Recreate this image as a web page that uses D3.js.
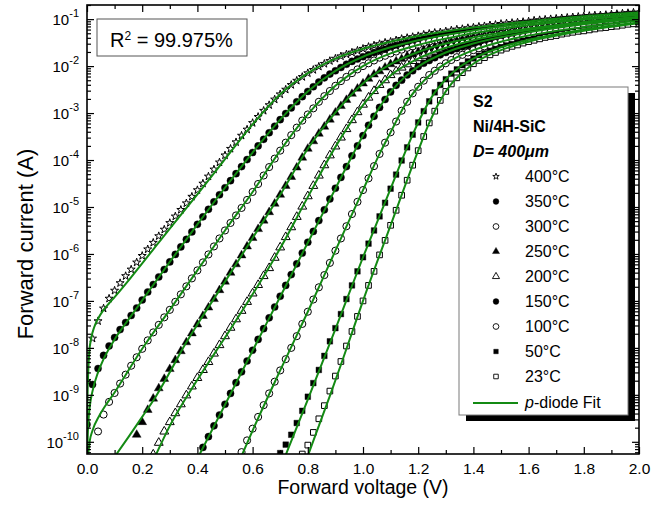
<!DOCTYPE html>
<html>
<head>
<meta charset="utf-8">
<script src="https://cdn.jsdelivr.net/npm/d3@7"></script>
<style>
  html, body { margin: 0; padding: 0; background: #fff; }
  svg { display: block; font-family: "Liberation Sans", Arial, sans-serif; }
</style>
</head>
<body>
<svg id="chart" width="668" height="518"></svg>
<script>
//=============== Data (current stored as log10 of A) ===============
// voltage sweep (V)
var voltage = [
  0.00,0.02,0.04,0.06,0.08,0.10,0.12,0.14,0.16,0.18,
  0.20,0.22,0.24,0.26,0.28,0.30,0.32,0.34,0.36,0.38,
  0.40,0.42,0.44,0.46,0.48,0.50,0.52,0.54,0.56,0.58,
  0.60,0.62,0.64,0.66,0.68,0.70,0.72,0.74,0.76,0.78,
  0.80,0.82,0.84,0.86,0.88,0.90,0.92,0.94,0.96,0.98,
  1.00,1.02,1.04,1.06,1.08,1.10,1.12,1.14,1.16,1.18,
  1.20,1.22,1.24,1.26,1.28,1.30,1.32,1.34,1.36,1.38,
  1.40,1.42,1.44,1.46,1.48,1.50,1.52,1.54,1.56,1.58,
  1.60,1.62,1.64,1.66,1.68,1.70,1.72,1.74,1.76,1.78,
  1.80,1.82,1.84,1.86,1.88,1.90,1.92,1.94,1.96,1.98,
  2.00];

var tempLabels = ["400°C", "350°C", "300°C", "250°C", "200°C", "150°C", "100°C", "50°C", "23°C"];
// first voltage of each measured series
var seriesStart = [0.00, 0.00, 0.04, 0.18, 0.24, 0.42, 0.56, 0.70, 0.78];

var cur400 = [
  -8.70,-7.80,-7.43,-7.16,-6.95,-6.78,-6.62,-6.47,-6.33,-6.18,
  -6.04,-5.90,-5.76,-5.62,-5.48,-5.34,-5.20,-5.06,-4.92,-4.78,
  -4.64,-4.50,-4.35,-4.20,-4.05,-3.90,-3.76,-3.62,-3.48,-3.35,
  -3.21,-3.08,-2.95,-2.83,-2.71,-2.60,-2.50,-2.40,-2.31,-2.23,
  -2.15,-2.08,-2.01,-1.95,-1.89,-1.84,-1.79,-1.75,-1.71,-1.67,
  -1.63,-1.59,-1.56,-1.53,-1.50,-1.48,-1.45,-1.42,-1.40,-1.38,
  -1.36,-1.33,-1.31,-1.29,-1.28,-1.26,-1.24,-1.22,-1.21,-1.19,
  -1.18,-1.16,-1.15,-1.13,-1.12,-1.10,-1.09,-1.08,-1.07,-1.06,
  -1.05,-1.03,-1.02,-1.01,-1.00,-0.99,-0.98,-0.97,-0.96,-0.95,
  -0.94,-0.93,-0.92,-0.92,-0.91,-0.90,-0.89,-0.88,-0.87,-0.86,
  -0.86];
var cur350 = [
  -9.63,-8.78,-8.44,-8.16,-7.96,-7.78,-7.61,-7.46,-7.31,-7.15,
  -6.98,-6.81,-6.65,-6.49,-6.33,-6.17,-6.01,-5.85,-5.69,-5.53,
  -5.37,-5.21,-5.05,-4.89,-4.74,-4.59,-4.44,-4.29,-4.14,-3.99,
  -3.84,-3.70,-3.56,-3.42,-3.28,-3.14,-3.01,-2.89,-2.76,-2.65,
  -2.54,-2.44,-2.34,-2.25,-2.17,-2.10,-2.03,-1.96,-1.90,-1.85,
  -1.80,-1.76,-1.71,-1.67,-1.64,-1.60,-1.57,-1.54,-1.51,-1.48,
  -1.45,-1.43,-1.40,-1.38,-1.36,-1.34,-1.31,-1.29,-1.28,-1.26,
  -1.24,-1.22,-1.21,-1.19,-1.18,-1.16,-1.15,-1.13,-1.12,-1.10,
  -1.09,-1.08,-1.07,-1.06,-1.05,-1.03,-1.02,-1.01,-1.00,-0.99,
  -0.98,-0.97,-0.96,-0.95,-0.94,-0.93,-0.92,-0.92,-0.91,-0.90,
  -0.89];
var cur300 = [
  -9.78,-9.42,-9.15,-8.96,-8.76,-8.57,-8.38,-8.20,
  -8.02,-7.84,-7.67,-7.51,-7.35,-7.19,-7.02,-6.86,-6.69,-6.52,
  -6.35,-6.18,-6.01,-5.84,-5.67,-5.50,-5.34,-5.18,-5.02,-4.85,
  -4.68,-4.51,-4.33,-4.15,-3.97,-3.80,-3.63,-3.47,-3.31,-3.16,
  -3.03,-2.90,-2.76,-2.64,-2.53,-2.42,-2.32,-2.23,-2.15,-2.07,
  -2.00,-1.94,-1.88,-1.82,-1.78,-1.73,-1.69,-1.65,-1.61,-1.58,
  -1.55,-1.51,-1.48,-1.46,-1.43,-1.41,-1.38,-1.36,-1.34,-1.32,
  -1.30,-1.28,-1.26,-1.24,-1.23,-1.21,-1.19,-1.18,-1.16,-1.15,
  -1.13,-1.12,-1.10,-1.09,-1.08,-1.07,-1.06,-1.05,-1.03,-1.02,
  -1.01,-1.00,-0.99,-0.98,-0.97,-0.96,-0.95,-0.94,-0.93,-0.92,
  -0.91];
var cur250 = [
  -9.85,
  -9.58,-9.32,-9.08,-8.86,-8.66,-8.45,-8.26,-8.07,-7.88,-7.69,
  -7.50,-7.32,-7.14,-6.96,-6.77,-6.59,-6.40,-6.22,-6.03,-5.84,
  -5.66,-5.47,-5.29,-5.11,-4.93,-4.74,-4.55,-4.36,-4.16,-3.95,
  -3.76,-3.60,-3.44,-3.29,-3.14,-2.99,-2.85,-2.72,-2.59,-2.48,
  -2.37,-2.27,-2.18,-2.11,-2.03,-1.96,-1.90,-1.85,-1.79,-1.75,
  -1.70,-1.66,-1.62,-1.59,-1.56,-1.52,-1.49,-1.47,-1.44,-1.41,
  -1.39,-1.37,-1.35,-1.32,-1.30,-1.28,-1.27,-1.25,-1.23,-1.21,
  -1.20,-1.18,-1.17,-1.15,-1.14,-1.12,-1.11,-1.10,-1.08,-1.07,
  -1.06,-1.05,-1.04,-1.02,-1.01,-1.00,-0.99,-0.98,-0.97,-0.96,
  -0.95];
var cur200 = [
  -10.27,-10.02,-9.78,-9.58,-9.39,-9.20,-9.01,-8.82,
  -8.64,-8.47,-8.30,-8.12,-7.94,-7.75,-7.57,-7.39,-7.21,-7.02,
  -6.84,-6.66,-6.47,-6.30,-6.08,-5.86,-5.64,-5.43,-5.21,-4.99,
  -4.77,-4.55,-4.33,-4.11,-3.90,-3.71,-3.52,-3.34,-3.15,-2.98,
  -2.82,-2.67,-2.53,-2.40,-2.30,-2.19,-2.11,-2.03,-1.96,-1.89,
  -1.83,-1.78,-1.73,-1.69,-1.65,-1.61,-1.57,-1.54,-1.51,-1.48,
  -1.45,-1.42,-1.40,-1.37,-1.35,-1.33,-1.31,-1.29,-1.27,-1.25,
  -1.23,-1.21,-1.20,-1.18,-1.17,-1.15,-1.14,-1.12,-1.11,-1.10,
  -1.08,-1.07,-1.06,-1.05,-1.04,-1.02,-1.01,-1.00,-0.99,-0.98,
  -0.97];
var cur150 = [
  -10.12,-9.89,-9.66,-9.43,-9.20,-8.97,-8.74,-8.51,-8.28,
  -8.05,-7.82,-7.59,-7.36,-7.13,-6.90,-6.67,-6.44,-6.21,-5.98,
  -5.75,-5.52,-5.29,-5.06,-4.83,-4.60,-4.37,-4.14,-3.91,-3.70,
  -3.48,-3.26,-3.07,-2.88,-2.71,-2.55,-2.41,-2.30,-2.19,-2.10,
  -2.01,-1.94,-1.88,-1.82,-1.76,-1.71,-1.67,-1.63,-1.59,-1.56,
  -1.52,-1.49,-1.46,-1.43,-1.41,-1.38,-1.36,-1.34,-1.32,-1.29,
  -1.28,-1.26,-1.24,-1.22,-1.20,-1.19,-1.17,-1.16,-1.14,-1.13,
  -1.11,-1.10,-1.09,-1.07,-1.06,-1.05,-1.04,-1.03,-1.01,-1.00,
  -0.99];
var cur100 = [
  -10.22,-9.97,
  -9.72,-9.47,-9.22,-8.97,-8.72,-8.48,-8.24,-8.00,-7.75,-7.49,
  -7.23,-6.97,-6.71,-6.45,-6.19,-5.93,-5.67,-5.41,-5.15,-4.89,
  -4.64,-4.39,-4.13,-3.87,-3.63,-3.41,-3.18,-2.95,-2.76,-2.58,
  -2.44,-2.31,-2.19,-2.10,-2.01,-1.94,-1.87,-1.81,-1.76,-1.71,
  -1.66,-1.62,-1.58,-1.55,-1.51,-1.48,-1.45,-1.43,-1.40,-1.38,
  -1.35,-1.33,-1.31,-1.29,-1.27,-1.25,-1.23,-1.21,-1.20,-1.18,
  -1.17,-1.15,-1.14,-1.12,-1.11,-1.09,-1.08,-1.07,-1.06,-1.04,
  -1.03];
var cur50 = [
  -10.24,-10.06,-9.85,-9.60,-9.34,
  -9.04,-8.75,-8.47,-8.17,-7.86,-7.58,-7.28,-6.96,-6.67,-6.37,
  -6.07,-5.78,-5.50,-5.20,-4.91,-4.61,-4.31,-4.01,-3.73,-3.46,
  -3.20,-2.96,-2.75,-2.56,-2.40,-2.28,-2.16,-2.07,-1.98,-1.90,
  -1.84,-1.78,-1.73,-1.68,-1.64,-1.60,-1.56,-1.53,-1.49,-1.46,
  -1.44,-1.41,-1.38,-1.36,-1.34,-1.31,-1.29,-1.27,-1.25,-1.24,
  -1.22,-1.20,-1.18,-1.17,-1.15,-1.14,-1.12,-1.11,-1.09,-1.08,
  -1.07];
var cur23 = [
  -10.26,
  -10.07,-9.80,-9.51,-9.23,-8.92,-8.60,-8.29,-7.96,-7.65,-7.33,
  -7.00,-6.67,-6.37,-6.02,-5.71,-5.39,-5.07,-4.75,-4.43,-4.11,
  -3.80,-3.50,-3.21,-2.96,-2.73,-2.54,-2.38,-2.25,-2.14,-2.04,
  -1.95,-1.88,-1.82,-1.76,-1.71,-1.66,-1.62,-1.58,-1.55,-1.51,
  -1.48,-1.45,-1.42,-1.39,-1.37,-1.35,-1.32,-1.30,-1.28,-1.26,
  -1.25,-1.23,-1.21,-1.19,-1.18,-1.16,-1.15,-1.13,-1.11,-1.10,
  -1.09];

// p-diode fit curves: [V, log10 I]
var fit400 = [[0.0003,-10.4],[0.001,-9.5],[0.002,-9.0],[0.004,-8.6],[0.008,-8.1],[0.015,-7.8],[0.026,-7.56],[0.04,-7.38],[0.06,-7.19],[0.08,-7.05],[0.1,-6.92],[0.15,-6.57],[0.2,-6.2],[0.25,-5.83],[0.3,-5.46],[0.4,-4.73],[0.5,-3.98],[0.6,-3.24],[0.7,-2.6],[0.8,-2.15],[0.9,-1.84],[1.0,-1.63],[1.1,-1.48],[1.2,-1.36],[1.4,-1.18],[1.6,-1.05],[1.8,-0.94],[2.0,-0.86]];
var fit350 = [[0.0006,-10.4],[0.002,-9.98],[0.005,-9.58],[0.01,-9.25],[0.02,-8.92],[0.04,-8.52],[0.06,-8.24],[0.1,-7.82],[0.15,-7.4],[0.2,-6.99],[0.3,-6.17],[0.4,-5.37],[0.5,-4.59],[0.6,-3.84],[0.7,-3.14],[0.8,-2.54],[0.9,-2.1],[1.0,-1.8],[1.1,-1.6],[1.2,-1.45],[1.4,-1.24],[1.6,-1.09],[1.8,-0.98],[2.0,-0.89]];
var fit300 = [[0.003,-10.35],[0.01,-9.98],[0.02,-9.76],[0.045,-9.44],[0.07,-9.2],[0.1,-8.95],[0.15,-8.48],[0.2,-8.02],[0.3,-7.19],[0.4,-6.35],[0.5,-5.5],[0.6,-4.68],[0.7,-3.8],[0.8,-3.03],[0.9,-2.42],[1.0,-2.0],[1.1,-1.73],[1.2,-1.55],[1.4,-1.3],[1.6,-1.13],[1.8,-1.01],[2.0,-0.91]];
var fit250 = [[0.1,-10.32],[0.15,-9.9],[0.2,-9.47],[0.25,-9.03],[0.3,-8.52],[0.35,-7.98],[0.4,-7.5],[0.5,-6.59],[0.6,-5.66],[0.7,-4.74],[0.8,-3.76],[0.9,-2.99],[1.0,-2.37],[1.1,-1.96],[1.2,-1.7],[1.3,-1.52],[1.4,-1.39],[1.6,-1.2],[1.8,-1.06],[2.0,-0.95]];
var fit200 = [[0.24,-10.4],[0.3,-9.66],[0.4,-8.68],[0.5,-7.78],[0.6,-6.86],[0.7,-5.88],[0.8,-4.79],[0.9,-3.72],[1.0,-2.83],[1.1,-2.2],[1.2,-1.84],[1.3,-1.61],[1.4,-1.45],[1.6,-1.23],[1.8,-1.08],[2.0,-0.97]];
var fit150 = [[0.4,-10.36],[0.5,-9.21],[0.6,-8.06],[0.7,-6.91],[0.8,-5.76],[0.9,-4.61],[0.96,-3.92],[1.0,-3.48],[1.05,-2.97],[1.1,-2.55],[1.15,-2.24],[1.2,-2.01],[1.3,-1.71],[1.4,-1.52],[1.6,-1.28],[1.8,-1.11],[2.0,-0.99]];
var fit100 = [[0.56,-10.3],[0.6,-9.76],[0.7,-8.48],[0.8,-7.23],[0.9,-5.93],[1.0,-4.64],[1.06,-3.87],[1.1,-3.41],[1.15,-2.85],[1.2,-2.44],[1.25,-2.15],[1.3,-1.94],[1.4,-1.66],[1.5,-1.48],[1.6,-1.35],[1.8,-1.17],[2.0,-1.03]];
var fit50 = [[0.72,-10.28],[0.8,-9.1],[0.9,-7.6],[1.0,-6.07],[1.1,-4.61],[1.16,-3.73],[1.2,-3.2],[1.25,-2.65],[1.3,-2.28],[1.35,-2.02],[1.4,-1.84],[1.5,-1.6],[1.6,-1.44],[1.8,-1.22],[2.0,-1.07]];
var fit23 = [[0.8,-10.3],[0.84,-9.66],[0.88,-9.02],[0.92,-8.36],[0.96,-7.68],[1.0,-7.0],[1.1,-5.39],[1.2,-3.8],[1.24,-3.21],[1.28,-2.73],[1.32,-2.38],[1.36,-2.14],[1.4,-1.95],[1.5,-1.66],[1.6,-1.48],[1.8,-1.25],[2.0,-1.09]];

var xMajor = [0.0, 0.2, 0.4, 0.6, 0.8, 1.0, 1.2, 1.4, 1.6, 1.8, 2.0];
var xMinor = [0.1, 0.3, 0.5, 0.7, 0.9, 1.1, 1.3, 1.5, 1.7, 1.9];
var yDecades = [-10, -9, -8, -7, -6, -5, -4, -3, -2, -1];
var fitR2 = "99.975%";
//=============== End of Data ===============

var svg = d3.select("#chart");
var plot = { left: 87, right: 639, top: 5, bottom: 454 };

var x = d3.scaleLinear().domain([0, 2]).range([plot.left, plot.right]);
var y = d3.scaleLog().domain([5.5e-11, 0.2]).range([plot.bottom, plot.top]);

var green = "#138a13";

// marker styles, same order as tempLabels
var styles = [
  { type: d3.symbolStar,     fill: "#fff", size: 20 },
  { type: d3.symbolCircle,   fill: "#000", size: 40 },
  { type: d3.symbolCircle,   fill: "#fff", size: 40 },
  { type: d3.symbolTriangle, fill: "#000", size: 34 },
  { type: d3.symbolTriangle, fill: "#fff", size: 34 },
  { type: d3.symbolCircle,   fill: "#000", size: 40 },
  { type: d3.symbolCircle,   fill: "#fff", size: 40 },
  { type: d3.symbolSquare,   fill: "#000", size: 32 },
  { type: d3.symbolSquare,   fill: "#fff", size: 32 }
];
var measured = [cur400, cur350, cur300, cur250, cur200, cur150, cur100, cur50, cur23];
var fits = [fit400, fit350, fit300, fit250, fit200, fit150, fit100, fit50, fit23];

svg.append("defs").append("clipPath").attr("id", "plotClip")
  .append("rect")
  .attr("x", plot.left).attr("y", plot.top)
  .attr("width", plot.right - plot.left).attr("height", plot.bottom - plot.top);

var dataLayer = svg.append("g").attr("clip-path", "url(#plotClip)");

//=============== Markers ===============
measured.forEach(function(vals, s) {
  var i0 = voltage.indexOf(seriesStart[s]);
  var pts = vals.map(function(v, k) { return { V: voltage[i0 + k], I: Math.pow(10, v) }; })
                .filter(function(d) { return d.V !== undefined; });
  var st = styles[s];
  dataLayer.append("g").selectAll("path")
    .data(pts)
    .enter().append("path")
    .attr("transform", function(d) { return "translate(" + x(d.V) + "," + y(d.I) + ")"; })
    .attr("d", d3.symbol().type(st.type).size(st.size))
    .attr("fill", st.fill)
    .attr("stroke", "#000")
    .attr("stroke-width", st.fill === "#fff" ? 1 : 0.4);
});

//=============== Fit lines ===============
var fitLine = d3.line()
  .x(function(d) { return x(d[0]); })
  .y(function(d) { return y(Math.pow(10, d[1])); })
  .curve(d3.curveMonotoneX);

fits.forEach(function(f) {
  dataLayer.append("path")
    .datum(f)
    .attr("fill", "none")
    .attr("stroke", green)
    .attr("stroke-width", 2)
    .attr("d", fitLine);
});

//=============== Legend ===============
var lg = { x: 459, y: 87, w: 169, h: 328 };
svg.append("rect").attr("x", lg.x + 7).attr("y", lg.y + 6).attr("width", lg.w).attr("height", lg.h)
  .attr("fill", "#000");
svg.append("rect").attr("x", lg.x).attr("y", lg.y).attr("width", lg.w).attr("height", lg.h)
  .attr("fill", "#fff").attr("stroke", "#7a7a7a").attr("stroke-width", 1);

var lgText = svg.append("g").attr("font-size", "16px").attr("fill", "#000");
lgText.append("text").attr("x", 473).attr("y", 107).attr("font-weight", "bold").text("S2");
lgText.append("text").attr("x", 473).attr("y", 132).attr("font-weight", "bold").text("Ni/4H-SiC");
lgText.append("text").attr("x", 473).attr("y", 157).attr("font-weight", "bold")
  .attr("font-style", "italic").text("D= 400\u03bcm");

tempLabels.forEach(function(lbl, s) {
  var by = 182 + s * 25;
  var st = styles[s];
  svg.append("path")
    .attr("transform", "translate(496," + (by - 5.5) + ")")
    .attr("d", d3.symbol().type(st.type).size(st.size * 0.65))
    .attr("fill", st.fill).attr("stroke", "#000")
    .attr("stroke-width", st.fill === "#fff" ? 0.9 : 0.4);
  lgText.append("text").attr("x", 525).attr("y", by).text(lbl);
});
svg.append("line").attr("x1", 473).attr("x2", 518).attr("y1", 403).attr("y2", 403)
  .attr("stroke", green).attr("stroke-width", 2);
var fitLbl = lgText.append("text").attr("x", 525).attr("y", 408);
fitLbl.append("tspan").attr("font-style", "italic").text("p");
fitLbl.append("tspan").text("-diode Fit");

//=============== Axes ===============
function styleAxis(g) {
  g.select(".domain").remove();
  g.selectAll(".tick line").attr("stroke", "#000").attr("stroke-width", 1.2);
}

// bottom
svg.append("g").attr("transform", "translate(0," + plot.bottom + ")")
  .call(d3.axisBottom(x).tickValues(xMajor).tickSize(-7).tickPadding(9).tickFormat(d3.format(".1f")))
  .call(styleAxis)
  .call(function(g) { g.selectAll("text").attr("font-size", "15.5px").attr("fill", "#000")
                        .attr("font-family", "Liberation Sans, Arial, sans-serif"); });
svg.append("g").attr("transform", "translate(0," + plot.bottom + ")")
  .call(d3.axisBottom(x).tickValues(xMinor).tickSize(-4).tickFormat(""))
  .call(styleAxis);
// top
svg.append("g").attr("transform", "translate(0," + plot.top + ")")
  .call(d3.axisTop(x).tickValues(xMajor).tickSize(-7).tickFormat(""))
  .call(styleAxis);
svg.append("g").attr("transform", "translate(0," + plot.top + ")")
  .call(d3.axisTop(x).tickValues(xMinor).tickSize(-4).tickFormat(""))
  .call(styleAxis);

// log ticks
var yMajorVals = yDecades.map(function(e) { return Math.pow(10, e); });
var yMinorVals = [];
d3.range(-11, 0).forEach(function(e) {
  d3.range(2, 10).forEach(function(k) {
    var v = k * Math.pow(10, e);
    if (v >= y.domain()[0] && v <= y.domain()[1]) yMinorVals.push(v);
  });
});

[[d3.axisLeft, plot.left], [d3.axisRight, plot.right]].forEach(function(a) {
  svg.append("g").attr("transform", "translate(" + a[1] + ",0)")
    .call(a[0](y).tickValues(yMajorVals).tickSize(-7).tickFormat(""))
    .call(styleAxis);
  svg.append("g").attr("transform", "translate(" + a[1] + ",0)")
    .call(a[0](y).tickValues(yMinorVals).tickSize(-4).tickFormat(""))
    .call(styleAxis);
});

// decade labels 10^n
var yLab = svg.append("g").attr("font-size", "15px").attr("fill", "#000");
yDecades.forEach(function(e) {
  var t = yLab.append("text")
    .attr("x", 79).attr("y", y(Math.pow(10, e)) + 5.7)
    .attr("text-anchor", "end");
  t.append("tspan").text("10");
  t.append("tspan").attr("font-size", "11px").attr("dy", -7.4).text(String(e));
});

// frame
svg.append("rect")
  .attr("x", plot.left).attr("y", plot.top)
  .attr("width", plot.right - plot.left).attr("height", plot.bottom - plot.top)
  .attr("fill", "none").attr("stroke", "#000").attr("stroke-width", 1.6);

//=============== Titles ===============
svg.append("text")
  .attr("x", 363).attr("y", 494)
  .attr("text-anchor", "middle").attr("font-size", "19.5px").attr("fill", "#000")
  .text("Forward voltage (V)");
svg.append("text")
  .attr("transform", "translate(33,244) rotate(-90)")
  .attr("text-anchor", "middle").attr("font-size", "22px").attr("fill", "#000")
  .text("Forward current (A)");

//=============== R^2 box ===============
svg.append("rect").attr("x", 97).attr("y", 19).attr("width", 150).attr("height", 37)
  .attr("fill", "#fff").attr("stroke", "#555").attr("stroke-width", 1);
var r2 = svg.append("text").attr("x", 110).attr("y", 46.5).attr("font-size", "20px").attr("fill", "#000");
r2.append("tspan").text("R");
r2.append("tspan").attr("font-size", "12px").attr("dy", -7).text("2");
r2.append("tspan").attr("dy", 7).text(" = " + fitR2);
</script>
</body>
</html>
